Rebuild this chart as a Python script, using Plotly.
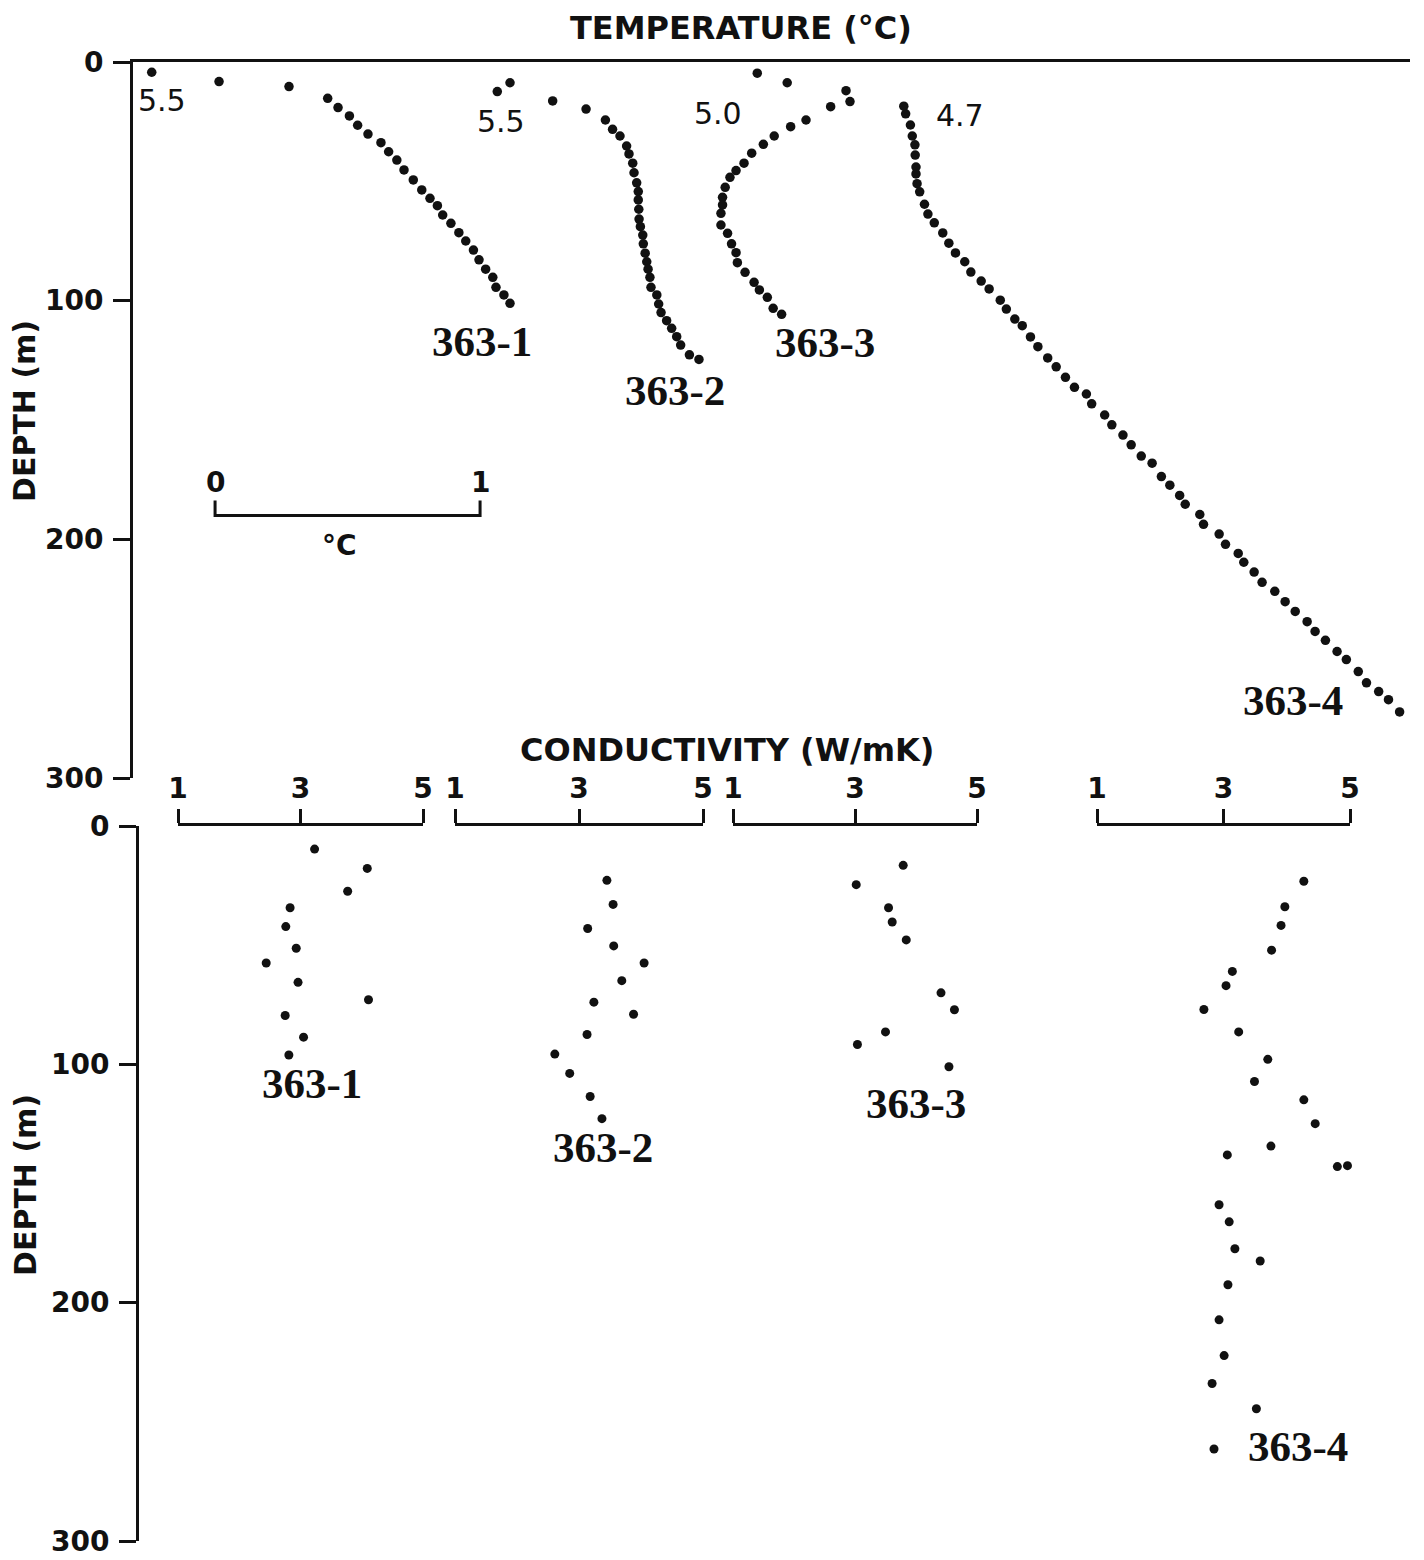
import plotly.graph_objects as go

# ---------------- data ----------------
WELLS = ["363-1", "363-2", "363-3", "363-4"]
SURFACE_TEMP_TEXT = ["5.5", "5.5", "5.0", "4.7"]
SURFACE_TEMP = [5.5, 5.5, 5.0, 4.7]

depth_t1 = [4.3, 8.2, 10.3, 15.2, 19.1, 22.6, 26.5, 30.2, 33.8, 37.6, 41.1, 45.2, 49.4, 53.6,
            57.1, 60.2, 64.1, 67.6, 71.5, 75.0, 78.8, 82.9, 86.8, 90.2, 94.4, 97.6, 101.1]
temp_1 = [5.500, 5.754, 6.018, 6.164, 6.203, 6.246, 6.277, 6.316, 6.365, 6.394, 6.425, 6.452,
          6.487, 6.519, 6.550, 6.578, 6.598, 6.629, 6.659, 6.685, 6.714, 6.735, 6.760, 6.787,
          6.799, 6.829, 6.852]

depth_t2 = [8.7, 12.4, 16.3, 19.7, 24.3, 28.2, 31.0, 35.2, 38.5, 42.4, 46.4, 50.6, 54.3, 57.8,
            61.7, 65.8, 69.0, 72.5, 76.2, 80.1, 83.7, 86.8, 90.2, 94.4, 97.6, 101.4, 105.0,
            108.4, 111.6, 115.1, 118.6, 122.7, 124.6]
temp_2 = [5.548, 5.500, 5.709, 5.835, 5.908, 5.935, 5.963, 5.988, 5.997, 6.011, 6.016, 6.026,
          6.032, 6.032, 6.034, 6.035, 6.040, 6.049, 6.051, 6.058, 6.064, 6.069, 6.076, 6.080,
          6.102, 6.109, 6.118, 6.139, 6.158, 6.177, 6.192, 6.225, 6.261]

depth_t3 = [4.7, 8.7, 12.0, 16.6, 18.7, 24.3, 27.1, 31.0, 34.5, 38.2, 42.4, 45.5, 48.3, 52.5,
            56.7, 59.9, 63.4, 68.3, 71.8, 76.2, 79.9, 84.1, 88.1, 92.3, 95.5, 98.6, 103.2, 105.7]
temp_3 = [5.000, 5.113, 5.335, 5.350, 5.277, 5.184, 5.126, 5.064, 5.023, 4.979, 4.950, 4.920,
          4.897, 4.879, 4.869, 4.869, 4.863, 4.863, 4.888, 4.903, 4.920, 4.925, 4.954, 4.988,
          5.008, 5.038, 5.060, 5.092]

depth_t4 = [18.5, 21.7, 26.4, 31.0, 34.7, 39.0, 44.0, 46.9, 51.0, 54.4, 59.6, 63.7, 67.4, 71.6,
            75.9, 80.0, 83.7, 88.0, 91.8, 95.1, 99.8, 103.5, 107.7, 110.5, 115.2, 119.3, 124.0,
            127.7, 132.1, 136.3, 139.1, 143.2, 147.9, 152.0, 156.3, 160.4, 165.1, 168.1, 173.7,
            177.3, 181.6, 185.3, 189.6, 193.7, 197.8, 202.1, 205.9, 209.6, 213.7, 218.0, 221.8,
            226.1, 230.2, 234.5, 238.6, 242.3, 247.0, 250.4, 255.4, 260.1, 263.8, 267.2, 272.3]
temp_4 = [4.700, 4.707, 4.725, 4.732, 4.742, 4.743, 4.746, 4.746, 4.750, 4.760, 4.778, 4.791,
          4.815, 4.847, 4.870, 4.895, 4.930, 4.953, 4.992, 5.022, 5.064, 5.087, 5.119, 5.147,
          5.178, 5.206, 5.243, 5.275, 5.310, 5.344, 5.389, 5.409, 5.458, 5.485, 5.527, 5.558,
          5.596, 5.637, 5.672, 5.704, 5.741, 5.762, 5.817, 5.831, 5.890, 5.914, 5.962, 5.983,
          6.022, 6.052, 6.100, 6.139, 6.177, 6.222, 6.252, 6.291, 6.335, 6.370, 6.415, 6.446,
          6.492, 6.529, 6.571]

depth_k1 = [9.7, 17.8, 27.4, 34.3, 42.2, 51.3, 57.5, 65.6, 72.9, 79.5, 88.6, 96.1]
cond_1 = [3.23, 4.09, 3.77, 2.83, 2.76, 2.93, 2.44, 2.96, 4.11, 2.75, 3.05, 2.81]

depth_k2 = [22.8, 32.9, 43.0, 50.3, 57.5, 64.9, 73.9, 79.0, 87.5, 95.7, 103.8, 113.5, 122.8]
cond_2 = [3.45, 3.55, 3.14, 3.56, 4.05, 3.69, 3.24, 3.88, 3.13, 2.61, 2.85, 3.18, 3.37]

depth_k3 = [16.5, 24.6, 34.3, 40.3, 47.8, 59.6, 70.0, 77.1, 86.4, 91.7, 101.0]
cond_3 = [3.79, 3.02, 3.55, 3.61, 3.84, 5.58, 4.41, 4.63, 3.50, 3.04, 4.54]

depth_k4 = [23.2, 33.9, 41.7, 52.1, 61.0, 67.0, 77.0, 86.4, 97.9, 107.2, 114.9, 124.9, 134.3,
            138.0, 142.9, 142.5, 158.9, 166.1, 177.4, 182.5, 192.5, 207.2, 222.2, 233.9, 244.5,
            261.4]
cond_4 = [4.27, 3.97, 3.91, 3.76, 3.14, 3.04, 2.69, 3.24, 3.70, 3.49, 4.27, 4.45, 3.75, 3.06,
          4.80, 4.96, 2.93, 3.09, 3.18, 3.58, 3.07, 2.93, 3.01, 2.82, 3.52, 2.85]

depth_ticks = [0, 100, 200, 300]
cond_ticks = [1, 3, 5]
scale_bar_ticks = [0, 1]  # deg C

temp_depths = [depth_t1, depth_t2, depth_t3, depth_t4]
temps = [temp_1, temp_2, temp_3, temp_4]
cond_depths = [depth_k1, depth_k2, depth_k3, depth_k4]
conds = [cond_1, cond_2, cond_3, cond_4]

# ---------------- layout geometry ----------------
W, H = 1424, 1560


def px(x):
    return x / W


def py(y):
    return 1 - y / H


TEMP_SPAN = 1280 / 265.0           # deg C across the top panel
TEMP_POS = [0.082, 1.386, 2.367, 2.920]  # where each surface temperature is plotted
SCALE_BAR_X = 0.321
SCALE_BAR_DEPTH = 190
COND_DOMAINS = [(178, 423), (455, 703), (733, 977), (1097, 1350)]

SANS = "DejaVu Sans"
SERIF = "Liberation Serif"
BLACK = "#111111"

fig = go.Figure()

# Temperature profiles
for i in range(4):
    xs = [t - SURFACE_TEMP[i] + TEMP_POS[i] for t in temps[i]]
    fig.add_trace(go.Scatter(x=xs, y=temp_depths[i], mode="markers", xaxis="x", yaxis="y",
                             marker=dict(size=9.5, color=BLACK), cliponaxis=False,
                             showlegend=False, name=WELLS[i]))

# Conductivity profiles
for i in range(4):
    ax = "x%d" % (i + 2)
    fig.add_trace(go.Scatter(x=conds[i], y=cond_depths[i], mode="markers", xaxis=ax, yaxis="y2",
                             marker=dict(size=9, color=BLACK), cliponaxis=False,
                             showlegend=False, name=WELLS[i]))

tickfont = dict(family=SANS, size=28, color=BLACK, weight="bold")
axis_common = dict(showgrid=False, zeroline=False, showline=True, linecolor=BLACK,
                   linewidth=3, tickcolor=BLACK, tickwidth=3, automargin=False,
                   ticklabeloverflow="allow")

layout = dict(
    template="none",
    width=W, height=H, autosize=False, margin=dict(l=0, r=0, t=0, b=0, pad=0),
    paper_bgcolor="white", plot_bgcolor="white", showlegend=False,
    xaxis=dict(domain=[px(130), px(1410)], range=[0, TEMP_SPAN], anchor="y", side="top",
               showticklabels=False, ticks="", **axis_common),
    yaxis=dict(domain=[py(778), py(62)], range=[300, 0], anchor="free", position=px(131),
               tickvals=depth_ticks, ticks="outside", ticklen=17, tickfont=tickfont,
               ticklabelstandoff=4, **axis_common),
    yaxis2=dict(domain=[py(1541), py(826)], range=[300, 0], anchor="free", position=px(137),
                tickvals=depth_ticks, ticks="outside", ticklen=17, tickfont=tickfont,
                ticklabelstandoff=4, **axis_common),
)
for i, (a, b) in enumerate(COND_DOMAINS):
    layout["xaxis%d" % (i + 2)] = dict(domain=[px(a), px(b)], range=[1, 5], anchor="y2",
                                       side="top", tickvals=cond_ticks, ticks="outside",
                                       ticklen=14, tickfont=tickfont, ticklabelstandoff=0,
                                       **axis_common)
fig.update_layout(**layout)

CENTER = dict(xanchor="center", yanchor="middle", showarrow=False)
annotations = []
# Titles
annotations.append(dict(text="TEMPERATURE (°C)", x=px(741), y=py(28), xref="paper", yref="paper",
                        font=dict(family=SANS, size=32, color=BLACK, weight="bold"), **CENTER))
annotations.append(dict(text="CONDUCTIVITY (W/mK)", x=px(727), y=py(750), xref="paper",
                        yref="paper",
                        font=dict(family=SANS, size=32, color=BLACK, weight="bold"), **CENTER))
for yc in (411, 1185):
    annotations.append(dict(text="DEPTH (m)", x=px(25), y=py(yc), xref="paper", yref="paper",
                            textangle=-90,
                            font=dict(family=SANS, size=30, color=BLACK, weight="bold"), **CENTER))

label_font = dict(family=SERIF, size=43, color=BLACK, weight="bold")
temp_label_font = dict(family=SANS, size=30, color=BLACK)

top_label_shift = [(-28, -38), (-24, -31), (43, -28), (-107, 11)]
temp_text_shift = [(10, -28), (4, -30), (-39, -40), (56, -9)]
bottom_label_shift = [(23, -28), (1, -29), (-33, -37), (84, 3)]

for i in range(4):
    xs = [t - SURFACE_TEMP[i] + TEMP_POS[i] for t in temps[i]]
    # well label at the deepest temperature reading
    annotations.append(dict(text=WELLS[i], x=xs[-1], y=temp_depths[i][-1], xref="x", yref="y",
                            xshift=top_label_shift[i][0], yshift=top_label_shift[i][1],
                            font=label_font, **CENTER))
    # surface temperature label beside the reference reading
    j = min(range(len(temps[i])), key=lambda k: abs(temps[i][k] - SURFACE_TEMP[i]))
    annotations.append(dict(text=SURFACE_TEMP_TEXT[i], x=xs[j], y=temp_depths[i][j], xref="x",
                            yref="y", xshift=temp_text_shift[i][0], yshift=temp_text_shift[i][1],
                            font=temp_label_font, **CENTER))
    # conductivity well label
    annotations.append(dict(text=WELLS[i], x=conds[i][-1], y=cond_depths[i][-1],
                            xref="x%d" % (i + 2), yref="y2",
                            xshift=bottom_label_shift[i][0], yshift=bottom_label_shift[i][1],
                            font=label_font, **CENTER))

# Temperature scale bar (0 - 1 deg C)
x0 = SCALE_BAR_X + scale_bar_ticks[0]
x1 = SCALE_BAR_X + scale_bar_ticks[1]
fig.add_shape(type="path", xref="x", yref="y",
              path="M %f,%f L %f,%f L %f,%f L %f,%f" % (x0, SCALE_BAR_DEPTH - 6.3, x0, SCALE_BAR_DEPTH,
                                                      x1, SCALE_BAR_DEPTH, x1, SCALE_BAR_DEPTH - 6.3),
              line=dict(color=BLACK, width=3))
for v in scale_bar_ticks:
    annotations.append(dict(text=str(v), x=SCALE_BAR_X + v, y=SCALE_BAR_DEPTH, xref="x", yref="y",
                            yshift=33, font=tickfont, **CENTER))
annotations.append(dict(text="°C", x=SCALE_BAR_X + 0.47, y=SCALE_BAR_DEPTH, xref="x", yref="y",
                        yshift=-30, font=tickfont, **CENTER))

fig.update_layout(annotations=annotations)
fig.write_html("out.html",
               post_script="document.body.style.margin='0';document.body.style.overflow='hidden';")
